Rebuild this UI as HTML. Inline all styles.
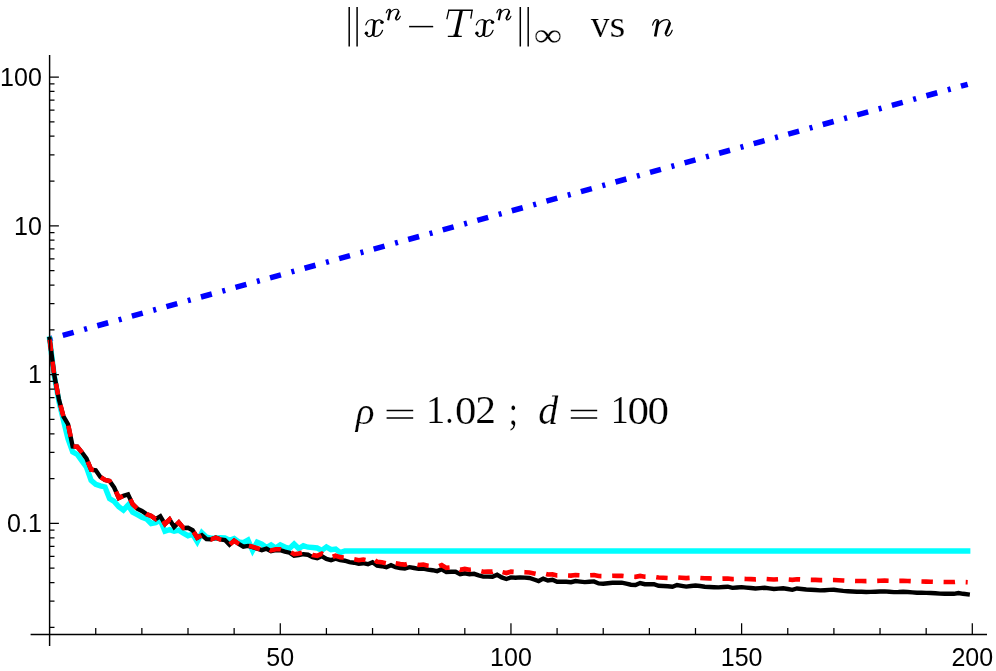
<!DOCTYPE html>
<html><head><meta charset="utf-8"><title>plot</title>
<style>html,body{margin:0;padding:0;background:#fff}svg{display:block}text{font-family:"Liberation Sans",sans-serif}.s text{font-family:"Liberation Serif",serif}</style></head><body>
<svg width="996" height="671" viewBox="0 0 996 671">
<title>‖x^n − T x^n‖∞ vs n</title><desc>Log plot of ‖x^n − T x^n‖∞ versus n for ρ = 1.02 ; d = 100</desc>
<rect width="996" height="671" fill="#fff"/>
<g font-size="25" fill="#000" style="filter:grayscale(1)">
<text x="41.8" y="85.80" text-anchor="end">100</text>
<text x="41.8" y="234.60" text-anchor="end">10</text>
<text x="41.8" y="383.40" text-anchor="end">1</text>
<text x="41.8" y="532.20" text-anchor="end">0.1</text>
<text x="280.28" y="665.8" text-anchor="middle">50</text>
<text x="510.95" y="665.8" text-anchor="middle">100</text>
<text x="741.62" y="665.8" text-anchor="middle">150</text>
<text x="972.30" y="665.8" text-anchor="middle">200</text>
</g>
<path d="M49.60 339.0L967.69 84.3" stroke="#0000ff" stroke-width="5.5" fill="none" stroke-dasharray="3 10.65 11.3 10.9"/>
<polyline points="49.60,339.00 54.21,375.50 58.83,401.00 63.44,420.50 68.05,439.00 72.67,451.80 77.28,454.50 81.89,460.80 86.51,467.30 91.12,480.40 95.74,484.30 100.35,485.80 104.96,487.00 109.58,498.70 114.19,501.40 118.80,506.70 123.42,510.20 128.03,505.20 132.64,512.20 137.26,514.70 141.87,517.20 146.48,518.90 151.10,523.50 155.71,522.60 160.32,520.10 164.94,531.20 169.55,529.70 174.16,531.20 178.78,530.20 183.39,533.20 188.00,535.70 192.62,534.20 197.23,541.70 201.85,532.70 206.46,537.20 211.07,538.20 215.69,538.20 220.30,537.70 224.91,538.00 229.53,540.20 234.14,538.50 238.75,542.00 243.37,542.60 247.98,540.10 252.59,550.50 257.21,542.10 261.82,544.10 266.43,547.50 271.05,544.90 275.66,548.00 280.28,544.90 284.89,547.00 289.50,548.50 294.12,544.10 298.73,548.50 303.34,545.70 307.96,547.20 312.57,547.50 317.18,548.00 321.80,550.30 326.41,546.90 331.02,549.60 335.64,549.10 340.25,552.60 344.86,551.00 349.48,551.00 354.09,551.00 358.70,551.00 363.32,551.00 367.93,551.00 372.55,551.00 377.16,551.00 381.77,551.00 386.39,551.00 391.00,551.00 395.61,551.00 400.23,551.00 404.84,551.00 409.45,551.00 414.07,551.00 418.68,551.00 423.29,551.00 427.91,551.00 432.52,551.00 437.13,551.00 441.75,551.00 446.36,551.00 450.97,551.00 455.59,551.00 460.20,551.00 464.82,551.00 469.43,551.00 474.04,551.00 478.66,551.00 483.27,551.00 487.88,551.00 492.50,551.00 497.11,551.00 501.72,551.00 506.34,551.00 510.95,551.00 515.56,551.00 520.18,551.00 524.79,551.00 529.40,551.00 534.02,551.00 538.63,551.00 543.24,551.00 547.86,551.00 552.47,551.00 557.09,551.00 561.70,551.00 566.31,551.00 570.93,551.00 575.54,551.00 580.15,551.00 584.77,551.00 589.38,551.00 593.99,551.00 598.61,551.00 603.22,551.00 607.83,551.00 612.45,551.00 617.06,551.00 621.67,551.00 626.29,551.00 630.90,551.00 635.51,551.00 640.13,551.00 644.74,551.00 649.36,551.00 653.97,551.00 658.58,551.00 663.20,551.00 667.81,551.00 672.42,551.00 677.04,551.00 681.65,551.00 686.26,551.00 690.88,551.00 695.49,551.00 700.10,551.00 704.72,551.00 709.33,551.00 713.94,551.00 718.56,551.00 723.17,551.00 727.78,551.00 732.40,551.00 737.01,551.00 741.62,551.00 746.24,551.00 750.85,551.00 755.47,551.00 760.08,551.00 764.69,551.00 769.31,551.00 773.92,551.00 778.53,551.00 783.15,551.00 787.76,551.00 792.37,551.00 796.99,551.00 801.60,551.00 806.21,551.00 810.83,551.00 815.44,551.00 820.05,551.00 824.67,551.00 829.28,551.00 833.90,551.00 838.51,551.00 843.12,551.00 847.74,551.00 852.35,551.00 856.96,551.00 861.58,551.00 866.19,551.00 870.80,551.00 875.42,551.00 880.03,551.00 884.64,551.00 889.26,551.00 893.87,551.00 898.48,551.00 903.10,551.00 907.71,551.00 912.32,551.00 916.94,551.00 921.55,551.00 926.17,551.00 930.78,551.00 935.39,551.00 940.01,551.00 944.62,551.00 949.23,551.00 953.85,551.00 958.46,551.00 963.07,551.00 967.69,551.00" stroke="#00ffff" stroke-width="5.4" fill="none" stroke-linecap="square" stroke-linejoin="miter"/>
<polyline points="49.60,339.00 54.21,374.70 58.83,399.00 63.44,416.50 68.05,424.20 72.67,446.50 77.28,446.70 81.89,452.30 86.51,458.60 91.12,469.70 95.74,470.30 100.35,477.00 104.96,479.90 109.58,481.00 114.19,487.50 118.80,498.00 123.42,495.80 128.03,494.40 132.64,504.20 137.26,508.70 141.87,510.90 146.48,514.10 151.10,515.90 155.71,519.10 160.32,516.20 164.94,524.00 169.55,519.50 174.16,527.00 178.78,522.50 183.39,528.00 188.00,527.70 192.62,530.20 197.23,537.70 201.85,535.20 206.46,539.20 211.07,539.40 215.69,537.70 220.30,539.40 224.91,540.00 229.53,544.70 234.14,540.70 238.75,544.00 243.37,546.60 247.98,545.90 252.59,547.10 257.21,548.70 261.82,550.20 266.43,548.70 271.05,551.20 275.66,550.20 280.28,550.20 284.89,551.70 289.50,552.70 294.12,555.70 298.73,555.20 303.34,554.20 307.96,554.70 312.57,557.20 317.18,558.20 321.80,556.20 326.41,559.00 331.02,560.20 335.64,558.70 340.25,560.20 344.86,560.70 349.48,562.20 354.09,562.70 358.70,563.70 363.32,563.20 367.93,564.20 372.55,562.20 377.16,565.70 381.77,566.20 386.39,567.20 391.00,565.20 395.61,567.20 400.23,568.00 404.84,568.50 409.45,567.20 414.07,568.00 418.68,568.90 423.29,568.50 427.91,569.70 432.52,570.20 437.13,571.10 441.75,569.30 446.36,572.10 450.97,571.70 455.59,571.70 460.20,574.20 464.82,573.30 469.43,574.20 474.04,573.80 478.66,575.40 483.27,576.60 487.88,576.60 492.50,576.80 497.11,574.80 501.72,577.40 506.34,579.00 510.95,577.40 515.56,577.80 520.18,577.40 524.79,577.60 529.40,578.00 534.02,579.50 538.63,581.00 543.24,578.60 547.86,580.50 552.47,579.80 557.09,581.80 561.70,581.80 566.31,581.80 570.93,582.20 575.54,581.00 580.15,581.60 584.77,582.10 589.38,581.80 593.99,581.40 598.61,583.40 603.22,583.70 607.83,583.20 612.45,582.70 617.06,582.70 621.67,582.70 626.29,583.70 630.90,584.70 635.51,585.00 640.13,583.00 644.74,584.20 649.36,584.20 653.97,584.20 658.58,585.80 663.20,586.00 667.81,586.30 672.42,586.80 677.04,585.00 681.65,585.80 686.26,586.60 690.88,586.00 695.49,585.50 700.10,586.00 704.72,586.70 709.33,587.00 713.94,587.20 718.56,587.40 723.17,587.00 727.78,586.70 732.40,587.90 737.01,587.50 741.62,587.10 746.24,587.60 750.85,588.00 755.47,588.50 760.08,588.10 764.69,587.70 769.31,588.40 773.92,589.00 778.53,588.60 783.15,588.30 787.76,589.00 792.37,589.80 796.99,588.50 801.60,589.00 806.21,589.50 810.83,589.80 815.44,590.00 820.05,590.40 824.67,590.20 829.28,589.90 833.90,589.80 838.51,590.40 843.12,590.90 847.74,591.20 852.35,591.50 856.96,591.70 861.58,591.80 866.19,592.00 870.80,591.90 875.42,591.70 880.03,591.50 884.64,591.40 889.26,591.80 893.87,592.10 898.48,592.00 903.10,591.70 907.71,592.00 912.32,592.40 916.94,592.70 921.55,592.80 926.17,592.90 930.78,593.00 935.39,593.30 940.01,593.60 944.62,593.80 949.23,593.80 953.85,593.80 958.46,593.00 963.07,593.80 967.69,594.40" stroke="#000" stroke-width="4.4" fill="none" stroke-linecap="square" stroke-linejoin="miter"/>
<polyline points="49.60,339.00 54.21,374.70 58.83,399.00 63.44,416.50 68.05,424.20 72.67,446.50 77.28,446.70 81.89,452.30 86.51,458.60 91.12,469.70 95.74,470.30 100.35,477.00 104.96,479.90 109.58,481.00 114.19,487.50 118.80,498.00 123.42,495.80 128.03,494.40 132.64,504.20 137.26,508.70 141.87,510.90 146.48,514.10 151.10,515.90 155.71,519.10 160.32,516.20 164.94,524.00 169.55,519.50 174.16,527.00 178.78,522.50 183.39,528.00 188.00,527.70 192.62,530.20 197.23,537.70 201.85,535.20 206.46,539.20 211.07,539.40 215.69,537.70 220.30,539.40 224.91,540.00 229.53,544.70 234.14,540.70 238.75,543.90 243.37,546.40 247.98,545.60 252.59,546.70 257.21,548.20 261.82,549.60 266.43,548.00 271.05,550.40 275.66,549.30 280.28,549.20 284.89,550.53 289.50,551.36 294.12,554.19 298.73,553.52 303.34,552.35 307.96,552.68 312.57,555.01 317.18,555.84 321.80,553.67 326.41,556.30 331.02,557.38 335.64,555.76 340.25,557.14 344.86,557.52 349.48,558.90 354.09,559.28 358.70,560.16 363.32,559.54 367.93,560.42 372.55,558.30 377.16,561.80 381.77,562.30 386.39,563.30 391.00,561.30 395.61,563.30 400.23,564.10 404.84,564.60 409.45,563.30 414.07,564.10 418.68,565.00 423.29,564.55 427.91,565.70 432.52,566.15 437.13,567.00 441.75,565.15 446.36,567.90 450.97,567.45 455.59,567.40 460.20,569.85 464.82,568.90 469.43,569.67 474.04,569.14 478.66,570.61 483.27,571.68 487.88,571.55 492.50,571.60 497.11,569.70 501.72,571.91 506.34,573.07 510.95,571.69 515.56,572.04 520.18,571.99 524.79,572.19 529.40,572.51 534.02,573.41 538.63,574.36 543.24,573.38 547.86,574.55 552.47,574.41 557.09,575.47 561.70,575.40 566.31,575.48 570.93,575.64 575.54,575.02 580.15,575.30 584.77,575.55 589.38,575.36 593.99,575.08 598.61,576.07 603.22,576.17 607.83,575.93 612.45,575.76 617.06,575.88 621.67,575.77 626.29,576.22 630.90,576.70 635.51,576.85 640.13,575.94 644.74,576.65 649.36,576.71 653.97,576.78 658.58,577.53 663.20,577.73 667.81,577.97 672.42,578.27 677.04,577.39 681.65,577.75 686.26,578.14 690.88,577.83 695.49,577.55 700.10,577.90 704.72,578.29 709.33,578.42 713.94,578.59 718.56,578.77 723.17,578.60 727.78,578.47 732.40,579.10 737.01,578.94 741.62,578.75 746.24,578.95 750.85,579.15 755.47,579.37 760.08,579.15 764.69,578.92 769.31,579.26 773.92,579.57 778.53,579.28 783.15,579.09 787.76,579.45 792.37,579.86 796.99,579.19 801.60,579.47 806.21,579.76 810.83,579.89 815.44,579.92 820.05,580.15 824.67,580.09 829.28,579.96 833.90,579.94 838.51,580.26 843.12,580.52 847.74,580.70 852.35,580.89 856.96,581.03 861.58,581.07 866.19,581.13 870.80,581.04 875.42,580.90 880.03,580.75 884.64,580.65 889.26,580.81 893.87,580.95 898.48,580.92 903.10,580.80 907.71,580.99 912.32,581.22 916.94,581.40 921.55,581.50 926.17,581.62 930.78,581.71 935.39,581.87 940.01,581.97 944.62,582.06 949.23,582.07 953.85,582.04 958.46,581.60 963.07,581.95 967.69,582.18" stroke="#ff0000" stroke-width="4.6" fill="none" stroke-linejoin="miter" stroke-dasharray="11.423 10.721" stroke-dashoffset="-0.66"/>
<g stroke="#000" stroke-width="1.45" fill="none">
<path d="M49.6 54.9V646M30.6 634.5H987"/>
</g>
<path d="M49.6 77.00h9.3M49.6 225.80h9.3M49.6 374.60h9.3M49.6 523.40h9.3M49.6 181.01h4.9M49.6 154.80h4.9M49.6 136.21h4.9M49.6 121.79h4.9M49.6 110.01h4.9M49.6 100.05h4.9M49.6 91.42h4.9M49.6 83.81h4.9M49.6 329.81h4.9M49.6 303.60h4.9M49.6 285.01h4.9M49.6 270.59h4.9M49.6 258.81h4.9M49.6 248.85h4.9M49.6 240.22h4.9M49.6 232.61h4.9M49.6 478.61h4.9M49.6 452.40h4.9M49.6 433.81h4.9M49.6 419.39h4.9M49.6 407.61h4.9M49.6 397.65h4.9M49.6 389.02h4.9M49.6 381.41h4.9M49.6 627.41h4.9M49.6 601.20h4.9M49.6 582.61h4.9M49.6 568.19h4.9M49.6 556.41h4.9M49.6 546.45h4.9M49.6 537.82h4.9M49.6 530.21h4.9M95.74 634.5v-6.6M141.87 634.5v-6.6M188.00 634.5v-6.6M234.14 634.5v-6.6M280.28 634.5v-11.2M326.41 634.5v-6.6M372.55 634.5v-6.6M418.68 634.5v-6.6M464.82 634.5v-6.6M510.95 634.5v-11.2M557.09 634.5v-6.6M603.22 634.5v-6.6M649.36 634.5v-6.6M695.49 634.5v-6.6M741.62 634.5v-11.2M787.76 634.5v-6.6M833.90 634.5v-6.6M880.03 634.5v-6.6M926.17 634.5v-6.6M972.30 634.5v-11.2" stroke="#000" stroke-width="1.25" fill="none"/>
<g class="s" fill="#000" style="filter:grayscale(1)">
<path d="M349.2 7V46.4M357.1 7V46.4M520.3 7V46.4M528.2 7V46.4" stroke="#000" stroke-width="1.5" fill="none"/>
<path d="M409.1 26.6H433.2" stroke="#000" stroke-width="1.5" fill="none"/>
<path d="M365.85 24.94C366.59 22.39 368.72 19.83 371.19 19.73 373.14 19.62 374.35 20.60 374.58 21.85M373.25 34.35C373.48 35.81 374.63 36.57 375.78 36.47 378.48 36.25 381.35 33.80 382.56 30.27M382.10 22.12C381.64 20.38 380.20 19.67 378.88 19.83 377.33 20.05 375.90 21.30 375.15 22.93M372.97 32.99C372.34 35.16 370.73 36.57 368.83 36.57 367.28 36.57 366.31 35.27 366.31 33.37" stroke="#000" stroke-width="1.2" fill="none" stroke-linecap="round" stroke-linejoin="round"/><path d="M374.52 21.30L373.25 34.51" stroke="#000" stroke-width="2.75" fill="none" stroke-linecap="round"/><circle cx="381.98" cy="22.23" r="1.75"/><circle cx="366.42" cy="33.37" r="1.75"/>
<path d="M386.22 12.86C386.94 10.57 388.22 9.12 389.64 9.29 390.21 9.35 390.50 9.79 390.29 10.46M389.57 13.81C391.35 10.80 394.06 9.12 396.49 9.24 397.91 9.35 398.69 10.46 398.55 12.02M395.84 18.05C395.49 19.49 396.20 20.00 397.06 19.88 398.48 19.72 399.76 17.82 400.40 16.18" stroke="#000" stroke-width="1.05" fill="none" stroke-linecap="round" stroke-linejoin="round"/><path d="M390.21 10.02L388.13 20.28" stroke="#000" stroke-width="2.05" fill="none"/><path d="M398.55 11.58C398.19 13.81 396.20 16.48 395.84 18.27" stroke="#000" stroke-width="2.05" fill="none" stroke-linecap="round"/>
<path d="M448.72 10.25L472.25 10.25M448.85 10.25L446.95 18.60M472.12 10.25L470.86 18.08M448.47 36.35L461.12 36.35" stroke="#000" stroke-width="1.3" fill="none" stroke-linecap="square" stroke-linejoin="miter"/><path d="M461.37 10.25L455.68 36.35" stroke="#000" stroke-width="3.2" fill="none"/><path d="M452.01 36.35Q454.32 36.35 453.32 34.52L458.67 34.52Q457.97 36.35 459.60 36.35Z"/>
<path d="M476.35 24.94C477.09 22.39 479.22 19.83 481.69 19.73 483.64 19.62 484.85 20.60 485.08 21.85M483.75 34.35C483.98 35.81 485.13 36.57 486.28 36.47 488.98 36.25 491.85 33.80 493.06 30.27M492.60 22.12C492.14 20.38 490.70 19.67 489.38 19.83 487.83 20.05 486.40 21.30 485.65 22.93M483.47 32.99C482.84 35.16 481.23 36.57 479.33 36.57 477.78 36.57 476.81 35.27 476.81 33.37" stroke="#000" stroke-width="1.2" fill="none" stroke-linecap="round" stroke-linejoin="round"/><path d="M485.02 21.30L483.75 34.51" stroke="#000" stroke-width="2.75" fill="none" stroke-linecap="round"/><circle cx="492.48" cy="22.23" r="1.75"/><circle cx="476.92" cy="33.37" r="1.75"/>
<path d="M496.82 12.86C497.54 10.57 498.82 9.12 500.25 9.29 500.81 9.35 501.10 9.79 500.89 10.46M500.17 13.81C501.95 10.80 504.66 9.12 507.09 9.24 508.51 9.35 509.29 10.46 509.15 12.02M506.44 18.05C506.09 19.49 506.80 20.00 507.66 19.88 509.08 19.72 510.36 17.82 511.00 16.18" stroke="#000" stroke-width="1.05" fill="none" stroke-linecap="round" stroke-linejoin="round"/><path d="M500.81 10.02L498.73 20.28" stroke="#000" stroke-width="2.05" fill="none"/><path d="M509.15 11.58C508.80 13.81 506.80 16.48 506.44 18.27" stroke="#000" stroke-width="2.05" fill="none" stroke-linecap="round"/>
<text transform="matrix(40.000 0 0 33.158 533.70 46.32)" font-size="1" stroke="#fff" stroke-width="0.006">∞</text>
<text transform="matrix(37.800 0 0 38.710 590.70 36.91)" font-size="1" stroke="#fff" stroke-width="0.006">v</text>
<text transform="matrix(40.952 0 0 38.958 609.56 37.11)" font-size="1" stroke="#fff" stroke-width="0.006">s</text>
<path d="M652.60 25.16C653.59 21.70 655.36 19.50 657.33 19.75 658.12 19.84 658.51 20.51 658.21 21.53M657.23 26.60C659.69 22.04 663.43 19.50 666.78 19.67 668.75 19.84 669.84 21.53 669.64 23.89M665.90 33.02C665.40 35.22 666.39 35.98 667.57 35.81 669.54 35.55 671.31 32.68 672.20 30.20" stroke="#000" stroke-width="1.2" fill="none" stroke-linecap="round" stroke-linejoin="round"/><path d="M658.12 20.85L655.24 36.40" stroke="#000" stroke-width="2.7" fill="none"/><path d="M669.64 23.22C669.15 26.60 666.39 30.65 665.90 33.36" stroke="#000" stroke-width="2.7" fill="none" stroke-linecap="round"/>
<text transform="matrix(39.158 0 0 37.206 355.78 423.69)" font-size="1" font-style="italic" stroke="#fff" stroke-width="0.006">ρ</text>
<path d="M386.6 410.4H413.2M386.6 418H413.2M570.8 410.4H597.2M570.8 418H597.2" stroke="#000" stroke-width="1.5" fill="none"/>
<text transform="matrix(38.571 0 0 40.000 426.03 423.40)" font-size="1" stroke="#fff" stroke-width="0.006">1</text>
<text transform="matrix(33.333 0 0 35.652 445.13 422.97)" font-size="1" stroke="#fff" stroke-width="0.006">.</text>
<text transform="matrix(42.857 0 0 40.000 454.89 423.60)" font-size="1" stroke="#fff" stroke-width="0.006">0</text>
<text transform="matrix(41.500 0 0 39.697 475.13 423.40)" font-size="1" stroke="#fff" stroke-width="0.006">2</text>
<text transform="matrix(32.667 0 0 39.024 508.67 424.65)" font-size="1" stroke="#fff" stroke-width="0.006">;</text>
<text transform="matrix(40.000 0 0 40.143 538.20 423.60)" font-size="1" font-style="italic" stroke="#fff" stroke-width="0.006">d</text>
<text transform="matrix(36.000 0 0 40.000 610.66 423.40)" font-size="1" stroke="#fff" stroke-width="0.006">1</text>
<text transform="matrix(43.095 0 0 40.000 627.48 423.60)" font-size="1" stroke="#fff" stroke-width="0.006">0</text>
<text transform="matrix(43.095 0 0 40.000 647.38 423.60)" font-size="1" stroke="#fff" stroke-width="0.006">0</text>
</g>
</svg></body></html>
